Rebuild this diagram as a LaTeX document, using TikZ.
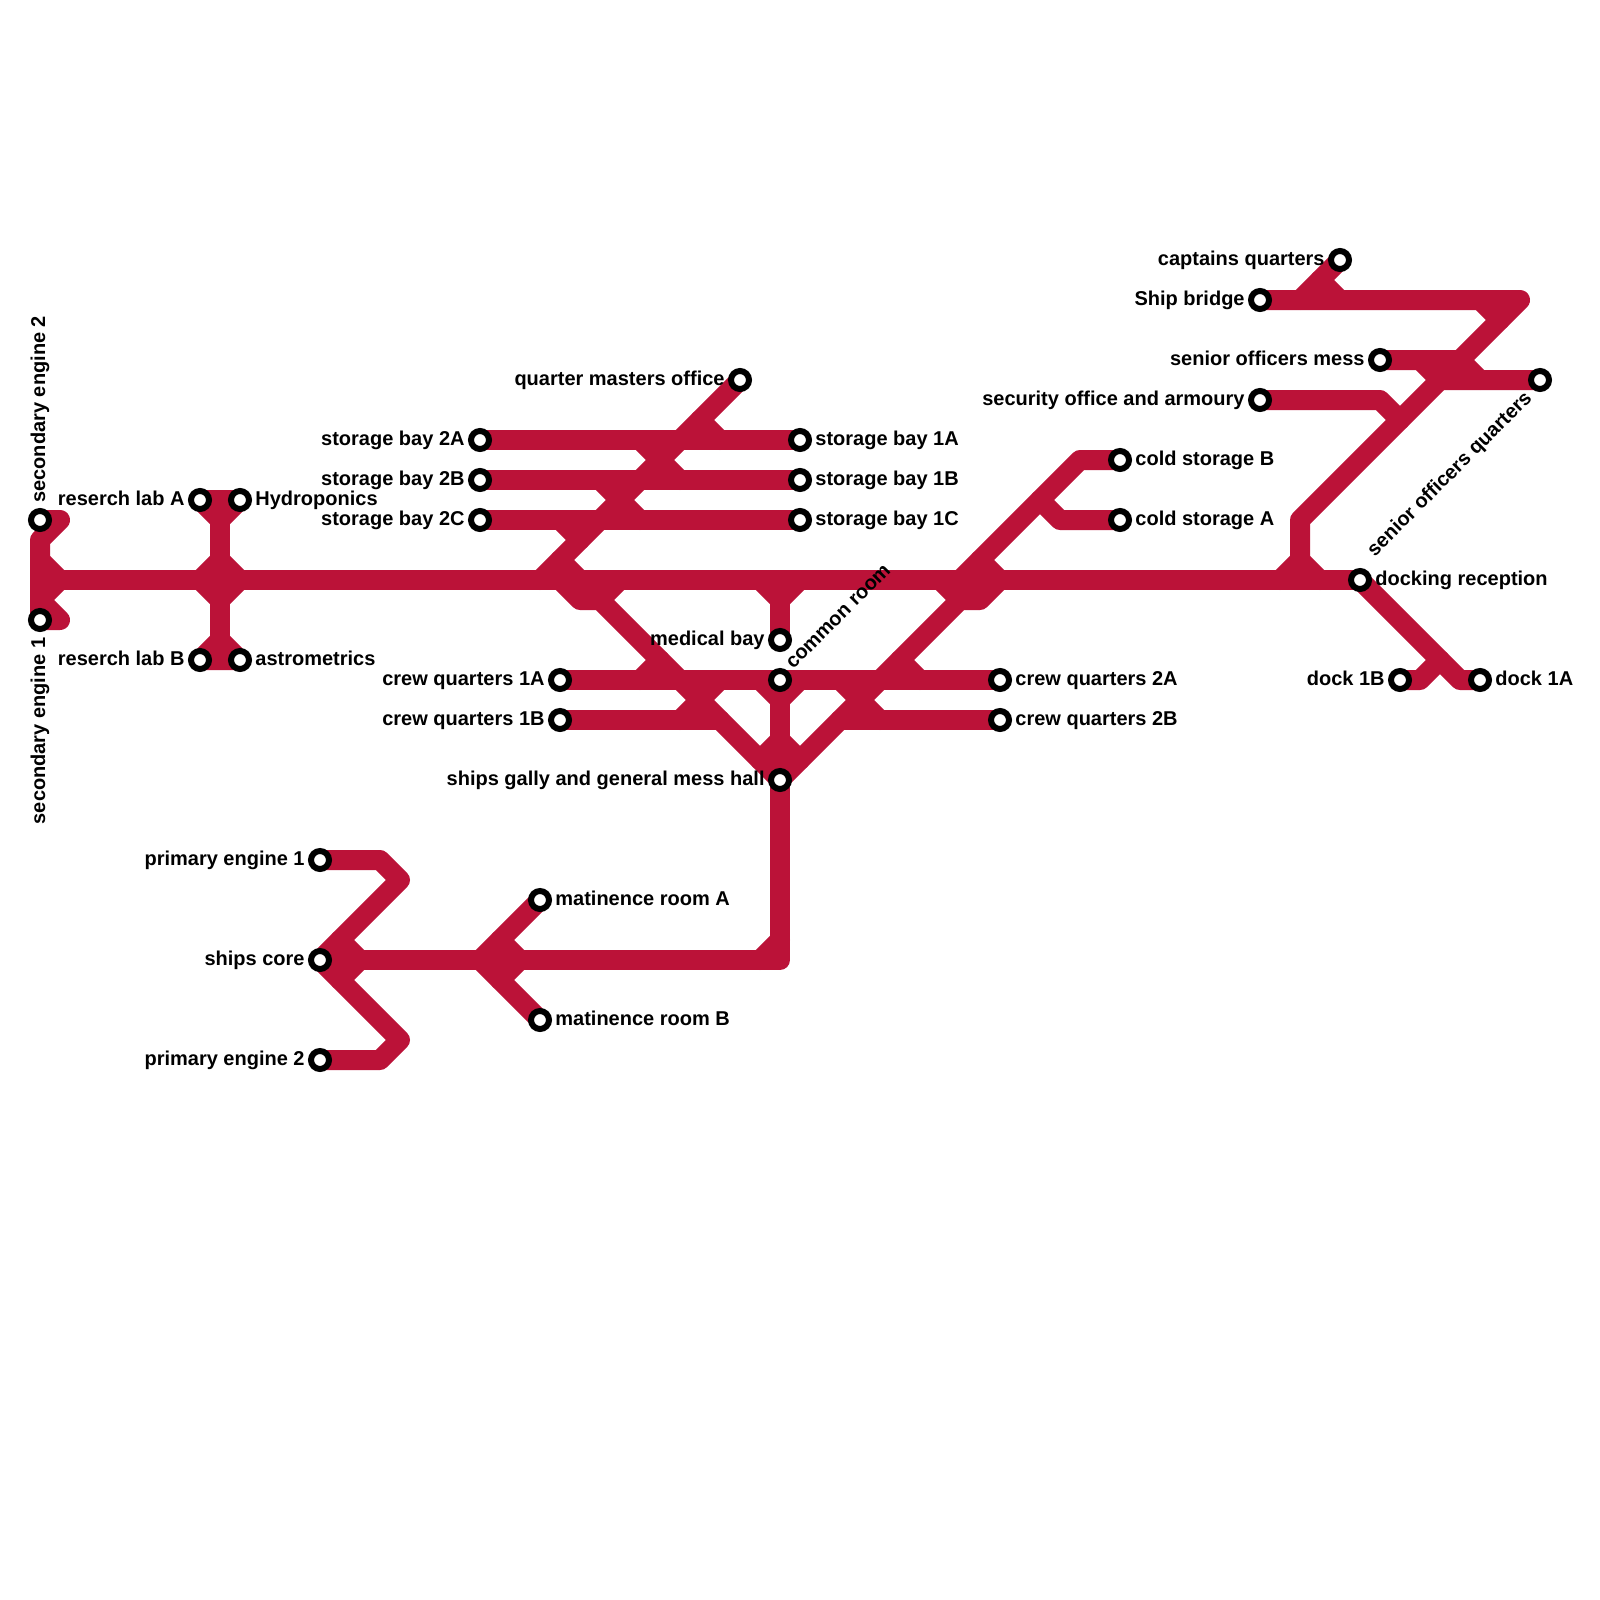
\documentclass[tikz,border=0pt]{standalone}
\usepackage{fontspec}
\setmainfont{Liberation Sans}
\definecolor{shipred}{RGB}{187, 18, 56}
\usetikzlibrary{positioning, backgrounds}
\tikzset{
    stn/.style={circle, draw=black, fill=white, line width=3pt, minimum size=9pt, inner sep=0pt},
    lbl/.style={font=\fontsize{10}{11}\selectfont\bfseries, inner sep=0pt, text height=5pt, text depth=0pt},
    track/.style={draw=shipred, line width=10pt, line join=round, line cap=round}
}

\begin{document}
\begin{tikzpicture}[x=0.5pt, y=-0.5pt]
    \useasboundingbox (0,0) rectangle (1600,1600);
    % stations and their names
    \node[stn] (sec2) at (40,520) {};
    \node[lbl, rotate=90, above=2.5pt of sec2, anchor=west] (sec2t) {secondary engine 2};
    \node[stn] (sec1) at (40,620) {};
    \node[lbl, rotate=90, below=2.5pt of sec1, anchor=east] (sec1t) {secondary engine 1};
    \node[stn] (rla) at (200,500) {};
    \node[lbl, left=1.5pt of rla] (rlat) {reserch lab A};
    \node[stn] (hyd) at (240,500) {};
    \node[lbl, right=1.5pt of hyd] (hydt) {Hydroponics};
    \node[stn] (rlb) at (200,660) {};
    \node[lbl, left=1.5pt of rlb] (rlbt) {reserch lab B};
    \node[stn] (ast) at (240,660) {};
    \node[lbl, right=1.5pt of ast] (astt) {astrometrics};
    \node[stn] (qm) at (740,380) {};
    \node[lbl, left=1.5pt of qm] (qmt) {quarter masters office};
    \node[stn] (sb2a) at (480,440) {};
    \node[lbl, left=1.5pt of sb2a] (sb2at) {storage bay 2A};
    \node[stn] (sb2b) at (480,480) {};
    \node[lbl, left=1.5pt of sb2b] (sb2bt) {storage bay 2B};
    \node[stn] (sb2c) at (480,520) {};
    \node[lbl, left=1.5pt of sb2c] (sb2ct) {storage bay 2C};
    \node[stn] (sb1a) at (800,440) {};
    \node[lbl, right=1.5pt of sb1a] (sb1at) {storage bay 1A};
    \node[stn] (sb1b) at (800,480) {};
    \node[lbl, right=1.5pt of sb1b] (sb1bt) {storage bay 1B};
    \node[stn] (sb1c) at (800,520) {};
    \node[lbl, right=1.5pt of sb1c] (sb1ct) {storage bay 1C};
    \node[stn] (med) at (780,640) {};
    \node[lbl, left=1.5pt of med] (medt) {medical bay};
    \node[stn] (com) at (780,680) {};
    \node[lbl, rotate=45, above right=2.5pt and 0.5pt of com, anchor=west] (comt) {common room};
    \node[stn] (gal) at (780,780) {};
    \node[lbl, left=1.5pt of gal] (galt) {ships gally and general mess hall};
    \node[stn] (cq1a) at (560,680) {};
    \node[lbl, left=1.5pt of cq1a] (cq1at) {crew quarters 1A};
    \node[stn] (cq1b) at (560,720) {};
    \node[lbl, left=1.5pt of cq1b] (cq1bt) {crew quarters 1B};
    \node[stn] (cq2a) at (1000,680) {};
    \node[lbl, right=1.5pt of cq2a] (cq2at) {crew quarters 2A};
    \node[stn] (cq2b) at (1000,720) {};
    \node[lbl, right=1.5pt of cq2b] (cq2bt) {crew quarters 2B};
    \node[stn] (csb) at (1120,460) {};
    \node[lbl, right=1.5pt of csb] (csbt) {cold storage B};
    \node[stn] (csa) at (1120,520) {};
    \node[lbl, right=1.5pt of csa] (csat) {cold storage A};
    \node[stn] (cap) at (1340,260) {};
    \node[lbl, left=1.5pt of cap] (capt) {captains quarters};
    \node[stn] (brg) at (1260,300) {};
    \node[lbl, left=1.5pt of brg] (brgt) {Ship bridge};
    \node[stn] (mes) at (1380,360) {};
    \node[lbl, left=1.5pt of mes] (mest) {senior officers mess};
    \node[stn] (sec) at (1260,400) {};
    \node[lbl, left=1.5pt of sec] (sect) {security office and armoury};
    \node[stn] (soq) at (1540,380) {};
    \node[lbl, rotate=45, below left=3.5pt and 1pt of soq, anchor=east] (soqt) {senior officers quarters};
    \node[stn] (doc) at (1360,580) {};
    \node[lbl, right=1.5pt of doc] (doct) {docking reception};
    \node[stn] (d1b) at (1400,680) {};
    \node[lbl, left=1.5pt of d1b] (d1bt) {dock 1B};
    \node[stn] (d1a) at (1480,680) {};
    \node[lbl, right=1.5pt of d1a] (d1at) {dock 1A};
    \node[stn] (pe1) at (320,860) {};
    \node[lbl, left=1.5pt of pe1] (pe1t) {primary engine 1};
    \node[stn] (cor) at (320,960) {};
    \node[lbl, left=1.5pt of cor] (cort) {ships core};
    \node[stn] (pe2) at (320,1060) {};
    \node[lbl, left=1.5pt of pe2] (pe2t) {primary engine 2};
    \node[stn] (ma) at (540,900) {};
    \node[lbl, right=1.5pt of ma] (mat) {matinence room A};
    \node[stn] (mb) at (540,1020) {};
    \node[lbl, right=1.5pt of mb] (mbt) {matinence room B};
    % bends and junctions
    \coordinate (sa1) at (60,520);
    \coordinate (sa2) at (40,540);
    \coordinate (sa3) at (40,560);
    \coordinate (sa4) at (60,580);
    \coordinate (sa5) at (40,600);
    \coordinate (sa6) at (60,620);
    \coordinate (lb1) at (220,520);
    \coordinate (lb2) at (220,640);
    \coordinate (lb3) at (200,580);
    \coordinate (lb4) at (220,560);
    \coordinate (lb5) at (240,580);
    \coordinate (lb6) at (220,600);
    \coordinate (st1) at (700,420);
    \coordinate (st2) at (720,440);
    \coordinate (st3) at (640,440);
    \coordinate (st4) at (680,480);
    \coordinate (st5) at (600,480);
    \coordinate (st6) at (640,520);
    \coordinate (st7) at (560,520);
    \coordinate (st8) at (580,540);
    \coordinate (st9) at (540,580);
    \coordinate (st10) at (560,560);
    \coordinate (st11) at (580,580);
    \coordinate (st12) at (560,580);
    \coordinate (st13) at (580,600);
    \coordinate (st14) at (600,600);
    \coordinate (st15) at (620,580);
    \coordinate (cr1) at (720,720);
    \coordinate (cr2) at (640,680);
    \coordinate (cr3) at (660,660);
    \coordinate (cr4) at (720,680);
    \coordinate (cr5) at (680,720);
    \coordinate (cr6) at (760,580);
    \coordinate (cr7) at (780,600);
    \coordinate (cr8) at (800,580);
    \coordinate (cr9) at (760,680);
    \coordinate (cr10) at (780,700);
    \coordinate (cr11) at (800,680);
    \coordinate (cr12) at (760,760);
    \coordinate (cr13) at (780,740);
    \coordinate (cr14) at (800,760);
    \coordinate (cr15) at (960,600);
    \coordinate (cr16) at (980,600);
    \coordinate (cr17) at (1000,580);
    \coordinate (cr18) at (940,580);
    \coordinate (cr19) at (840,680);
    \coordinate (cr20) at (880,720);
    \coordinate (cr21) at (840,720);
    \coordinate (cr22) at (900,660);
    \coordinate (cr23) at (920,680);
    \coordinate (cs1) at (1080,460);
    \coordinate (cs2) at (960,580);
    \coordinate (cs3) at (1040,500);
    \coordinate (cs4) at (1060,520);
    \coordinate (cs5) at (980,560);
    \coordinate (tp1) at (1280,580);
    \coordinate (tp2) at (1300,560);
    \coordinate (tp3) at (1320,580);
    \coordinate (tp4) at (1300,520);
    \coordinate (tp5) at (1520,300);
    \coordinate (tp6) at (1300,300);
    \coordinate (tp7) at (1320,280);
    \coordinate (tp8) at (1340,300);
    \coordinate (tp9) at (1480,300);
    \coordinate (tp10) at (1500,320);
    \coordinate (tp11) at (1460,360);
    \coordinate (tp12) at (1480,380);
    \coordinate (tp13) at (1420,360);
    \coordinate (tp14) at (1440,380);
    \coordinate (tp15) at (1380,400);
    \coordinate (tp16) at (1400,420);
    \coordinate (dk1) at (1460,680);
    \coordinate (dk2) at (1420,680);
    \coordinate (dk3) at (1440,660);
    \coordinate (bt1) at (380,860);
    \coordinate (bt2) at (400,880);
    \coordinate (bt3) at (400,1040);
    \coordinate (bt4) at (380,1060);
    \coordinate (bt5) at (340,940);
    \coordinate (bt6) at (360,960);
    \coordinate (bt7) at (340,980);
    \coordinate (bt8) at (780,960);
    \coordinate (bt9) at (760,960);
    \coordinate (bt10) at (780,940);
    \coordinate (bt11) at (480,960);
    \coordinate (bt12) at (500,940);
    \coordinate (bt13) at (520,960);
    \coordinate (bt14) at (500,980);
    % the tracks go under the stations
    \begin{scope}[on background layer]
        \draw[track] (sec2.center) -- (sa1) -- (sa2) -- (sec1.center);
        \draw[track] (sa3) -- (sa4) -- (sa5) -- (sa6) -- (sec1.center);
        \draw[track] (sa4) -- (doc.center);
        \draw[track] (rla.center) -- (hyd.center) -- (lb1) -- (rla.center);
        \draw[track] (rlb.center) -- (ast.center) -- (lb2) -- (rlb.center);
        \draw[track] (lb1) -- (lb2);
        \draw[track] (lb3) -- (lb4) -- (lb5) -- (lb6) -- (lb3);
        \draw[track] (qm.center) -- (st9);
        \draw[track] (st1) -- (st2);
        \draw[track] (sb2a.center) -- (sb1a.center);
        \draw[track] (sb2b.center) -- (sb1b.center);
        \draw[track] (sb2c.center) -- (sb1c.center);
        \draw[track] (st3) -- (st4);
        \draw[track] (st5) -- (st6);
        \draw[track] (st7) -- (st8);
        \draw[track] (st10) -- (st11);
        \draw[track] (st12) -- (st13) -- (st14) -- (gal.center);
        \draw[track] (st15) -- (st14);
        \draw[track] (cq1a.center) -- (cq2a.center);
        \draw[track] (cq1b.center) -- (cr1);
        \draw[track] (cr2) -- (cr3);
        \draw[track] (cr4) -- (cr5);
        \draw[track] (cr6) -- (cr7) -- (cr8);
        \draw[track] (cr7) -- (med.center);
        \draw[track] (cr9) -- (cr10) -- (cr11);
        \draw[track] (com.center) -- (gal.center);
        \draw[track] (cr12) -- (cr13) -- (cr14);
        \draw[track] (gal.center) -- (cr15) -- (cr16) -- (cr17);
        \draw[track] (cr18) -- (cr15);
        \draw[track] (cr19) -- (cr20);
        \draw[track] (cr21) -- (cq2b.center);
        \draw[track] (cr22) -- (cr23);
        \draw[track] (csb.center) -- (cs1) -- (cs2);
        \draw[track] (cs3) -- (cs4) -- (csa.center);
        \draw[track] (cs5) -- (cr17);
        \draw[track] (tp1) -- (tp2) -- (tp3);
        \draw[track] (tp2) -- (tp4) -- (tp5) -- (brg.center);
        \draw[track] (cap.center) -- (tp6);
        \draw[track] (tp7) -- (tp8);
        \draw[track] (tp9) -- (tp10);
        \draw[track] (mes.center) -- (tp11) -- (tp12);
        \draw[track] (tp13) -- (tp14) -- (soq.center);
        \draw[track] (sec.center) -- (tp15) -- (tp16);
        \draw[track] (doc.center) -- (dk1) -- (d1a.center);
        \draw[track] (d1b.center) -- (dk2) -- (dk3);
        \draw[track] (pe1.center) -- (bt1) -- (bt2) -- (cor.center) -- (bt3) -- (bt4) -- (pe2.center);
        \draw[track] (bt5) -- (bt6) -- (bt7);
        \draw[track] (cor.center) -- (bt8) -- (gal.center);
        \draw[track] (bt9) -- (bt10);
        \draw[track] (ma.center) -- (bt11) -- (mb.center);
        \draw[track] (bt12) -- (bt13) -- (bt14);
    \end{scope}
\end{tikzpicture}
\end{document}
